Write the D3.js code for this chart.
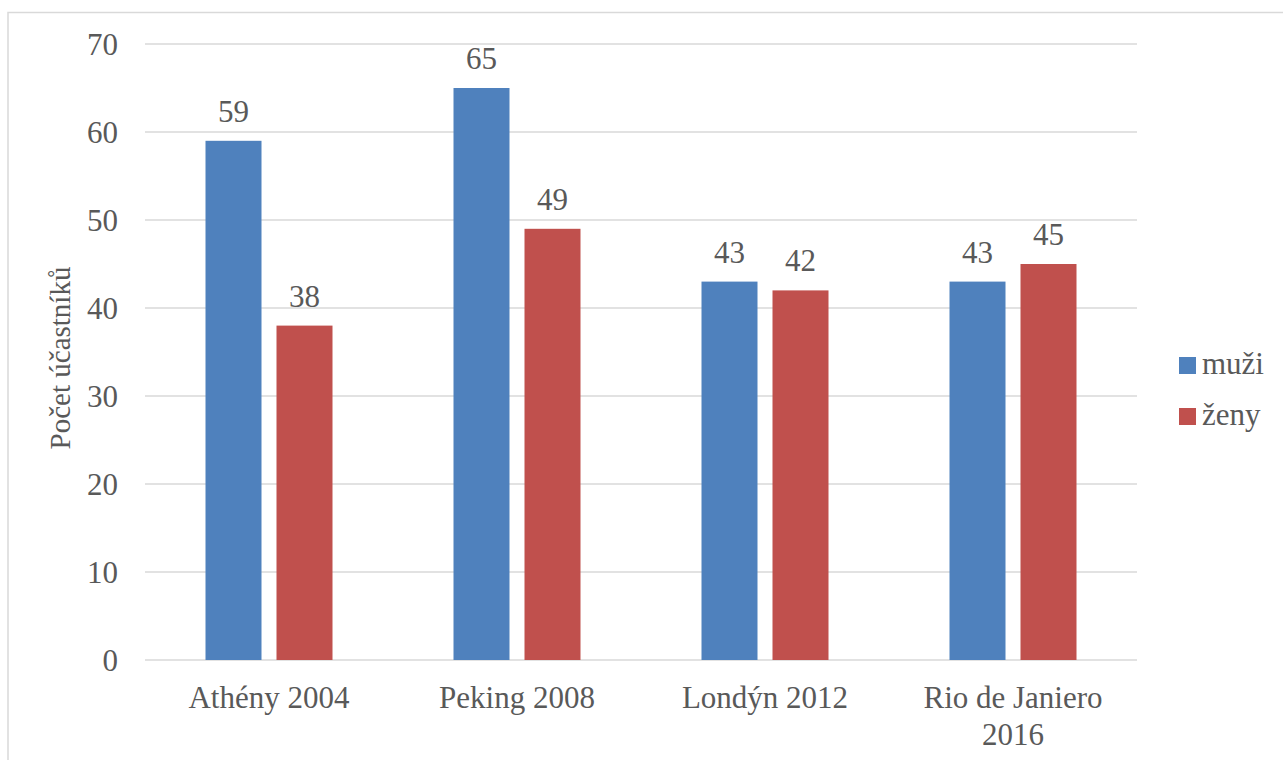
<!DOCTYPE html>
<html>
<head>
<meta charset="utf-8">
<script src="https://cdn.jsdelivr.net/npm/d3@7"></script>
<style>
  html, body { margin: 0; padding: 0; background: #fff; }
  svg { display: block; }
</style>
</head>
<body>
<svg id="chart" width="1283" height="760"></svg>
<script>
const categories = [["Athény 2004"], ["Peking 2008"], ["Londýn 2012"], ["Rio de Janiero", "2016"]];
const seriesNames = ["muži", "ženy"];
const muzi = [59, 65, 43, 43];
const zeny = [38, 49, 42, 45];
const yTicks = [0, 10, 20, 30, 40, 50, 60, 70];
const colors = ["#4F81BD", "#C0504D"];

const FONT = "'Liberation Serif', 'Times New Roman', Tinos, serif";
const svg = d3.select("#chart")
  .style("font-family", FONT);
const W = 1283, H = 760;
const plot = { left: 145, right: 1137, top: 44, bottom: 660 };

// outer chart border
svg.append("rect")
  .attr("x", 8).attr("y", 12.5)
  .attr("width", W + 20).attr("height", H + 20)
  .attr("fill", "none").attr("stroke", "#d9d9d9").attr("stroke-width", 1.5);

const catKeys = categories.map(c => c.join(" "));
const x = d3.scaleBand().domain(catKeys).range([plot.left, plot.right]).paddingInner(0).paddingOuter(0);
const y = d3.scaleLinear().domain([0, 70]).range([plot.bottom, plot.top]);

const groupW = x.bandwidth() * (127 / 248);
const x1 = d3.scaleBand().domain(seriesNames).range([0, groupW]).paddingInner(15 / 71).paddingOuter(0);

function txt(sel) {
  return sel.style("font-family", FONT).style("fill", "#595959");
}

// gridlines
svg.append("g").selectAll("line").data(yTicks).join("line")
  .attr("x1", plot.left).attr("x2", plot.right)
  .attr("y1", d => y(d)).attr("y2", d => y(d))
  .attr("stroke", "#d9d9d9").attr("stroke-width", 1.4);

// y tick labels
txt(svg.append("g").selectAll("text").data(yTicks).join("text"))
  .attr("x", 118).attr("y", d => y(d))
  .attr("dy", "0.35em")
  .attr("text-anchor", "end")
  .style("font-size", "31px")
  .text(d => d);

// bars
const data = catKeys.map((k, i) => ({ key: k, values: [muzi[i], zeny[i]] }));
const groups = svg.append("g").selectAll("g").data(data).join("g")
  .attr("transform", d => `translate(${x(d.key) + (x.bandwidth() - groupW) / 2},0)`);

groups.selectAll("rect").data(d => d.values.map((v, j) => ({ s: seriesNames[j], v, j }))).join("rect")
  .attr("x", d => x1(d.s))
  .attr("width", x1.bandwidth())
  .attr("y", d => y(d.v))
  .attr("height", d => y(0) - y(d.v))
  .attr("fill", d => colors[d.j]);

txt(groups.selectAll("text.lbl").data(d => d.values.map((v, j) => ({ s: seriesNames[j], v, j }))).join("text"))
  .attr("class", "lbl")
  .attr("x", d => x1(d.s) + x1.bandwidth() / 2)
  .attr("y", d => y(d.v) - 19)
  .attr("text-anchor", "middle")
  .style("font-size", "31px")
  .text(d => d.v);

// category labels
const cl = txt(svg.append("g").selectAll("text").data(categories).join("text"))
  .attr("x", (d, i) => x(catKeys[i]) + x.bandwidth() / 2)
  .attr("y", 708)
  .attr("text-anchor", "middle")
  .style("font-size", "31px");
cl.selectAll("tspan").data(d => d).join("tspan")
  .attr("x", function () { return this.parentNode.getAttribute("x"); })
  .attr("dy", (d, i) => i === 0 ? 0 : 37)
  .text(d => d);

// y axis title
txt(svg.append("text"))
  .attr("transform", "translate(70,358) rotate(-90)")
  .attr("text-anchor", "middle")
  .style("font-size", "29px")
  .text("Počet účastníků");

// legend
const lg = svg.append("g").selectAll("g").data(seriesNames).join("g")
  .attr("transform", (d, i) => `translate(1179,${357 + i * 51})`);
lg.append("rect").attr("width", 17).attr("height", 17).attr("fill", (d, i) => colors[i]);
txt(lg.append("text")).attr("x", 23).attr("y", 17).style("font-size", "31px").text(d => d);
</script>
</body>
</html>
